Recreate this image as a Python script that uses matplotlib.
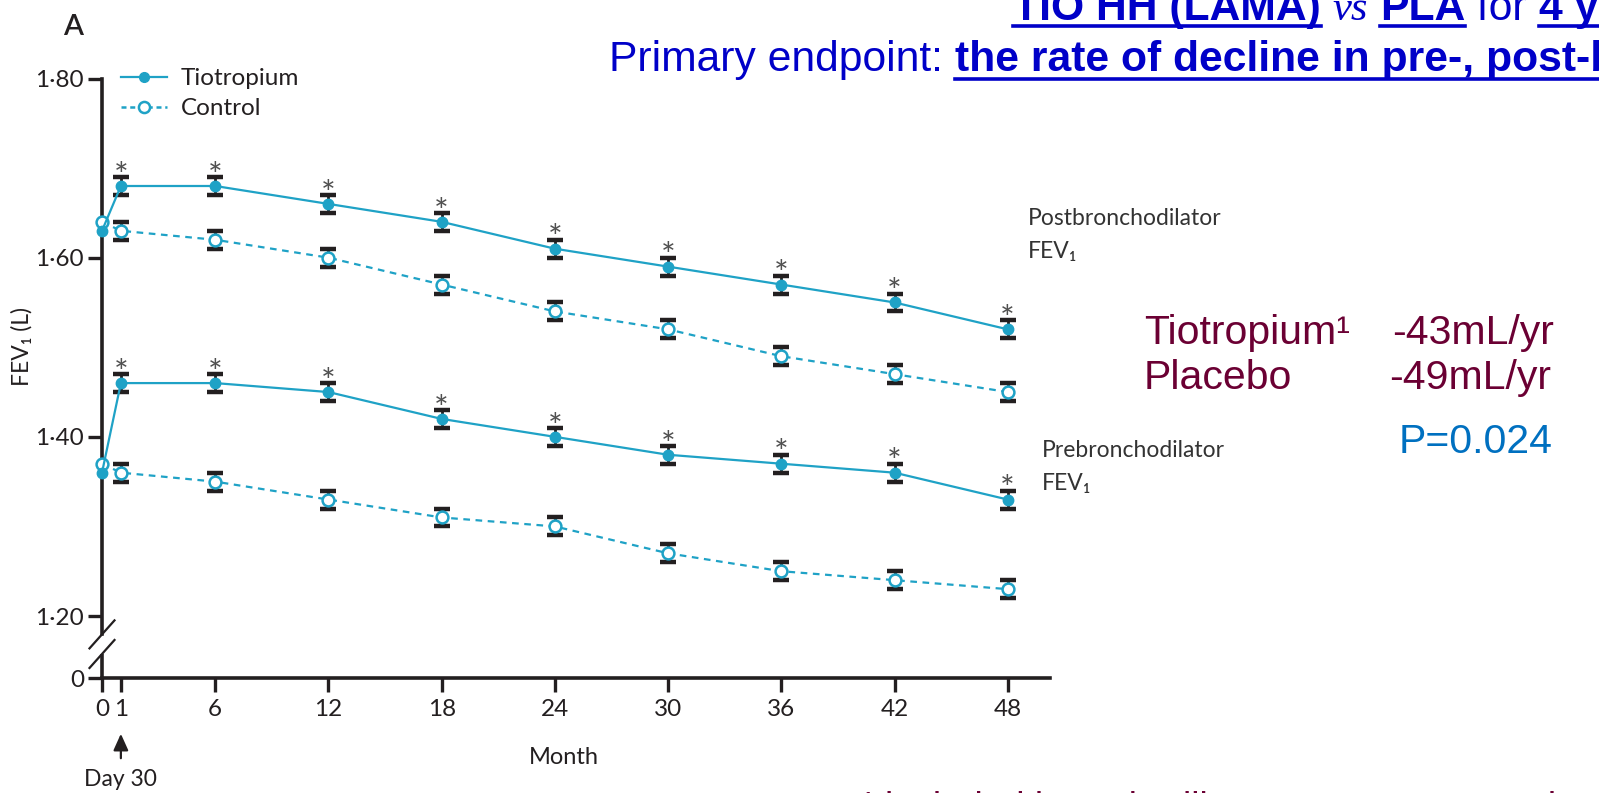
import matplotlib
matplotlib.use("Agg")
import matplotlib.pyplot as plt
import matplotlib.transforms as mtransforms
from matplotlib.lines import Line2D

# ---------------- data ----------------
months = [0, 1, 6, 12, 18, 24, 30, 36, 42, 48]
tio_post = [1.63, 1.68, 1.68, 1.66, 1.64, 1.61, 1.59, 1.57, 1.55, 1.52]
ctl_post = [1.64, 1.63, 1.62, 1.60, 1.57, 1.54, 1.52, 1.49, 1.47, 1.45]
tio_pre = [1.36, 1.46, 1.46, 1.45, 1.42, 1.40, 1.38, 1.37, 1.36, 1.33]
ctl_pre = [1.37, 1.36, 1.35, 1.33, 1.31, 1.30, 1.27, 1.25, 1.24, 1.23]
err_tio_post = [0.0, 0.010, 0.010, 0.010, 0.010, 0.010, 0.010, 0.010, 0.010, 0.010]
err_ctl_post = [0.0, 0.010, 0.010, 0.010, 0.010, 0.010, 0.010, 0.010, 0.010, 0.010]
err_tio_pre = [0.0, 0.010, 0.010, 0.010, 0.010, 0.010, 0.010, 0.010, 0.010, 0.010]
err_ctl_pre = [0.0, 0.010, 0.010, 0.010, 0.010, 0.010, 0.010, 0.010, 0.010, 0.010]
xtick_labels = ["0", "1", "6", "12", "18", "24", "30", "36", "42", "48"]
ytick_values = [1.20, 1.40, 1.60, 1.80]
ytick_labels = ["1·20", "1·40", "1·60", "1·80"]
series_labels = ["Tiotropium", "Control"]

TEAL = "#1fa2c6"
INK = "#231f20"
MAROON = "#6b0033"
BLUE = "#0000c8"
PBLUE = "#0070c0"

plt.rcParams["font.family"] = ["Lato", "DejaVu Sans"]

W, H = 1599, 793
fig = plt.figure(figsize=(W / 100, H / 100), dpi=100)

# axes placement (figure pixels)
ax_l, ax_r, ax_t, ax_b = 102, 1050, 78.5, 678
ax = fig.add_axes([ax_l / W, 1 - ax_b / H, (ax_r - ax_l) / W, (ax_b - ax_t) / H])
y_zero = 1.1308  # where the broken axis shows "0"
ax.set_ylim(y_zero, 1.80)
ax.set_xlim(0, 50.24)

for s in ["top", "right"]:
    ax.spines[s].set_visible(False)
for s in ["left", "bottom"]:
    ax.spines[s].set_linewidth(2.6)
    ax.spines[s].set_color(INK)
break_hi, break_lo = 1.1795, 1.1576
ax.spines["left"].set_bounds(break_hi, 1.80)
ax.plot([0, 0], [y_zero, break_lo], color=INK, lw=2.6, transform=ax.get_yaxis_transform(),
        clip_on=False, solid_capstyle="butt")

# break slashes
fig.canvas.draw()
for yb in (break_hi, break_lo):
    cx, cy = ax.get_yaxis_transform().transform((0, yb))
    fig.add_artist(Line2D([cx - 12.5, cx + 12.5], [cy - 14, cy + 14], color=INK, lw=1.6,
                          transform=mtransforms.IdentityTransform()))

ax.set_xticks(months)
ax.set_xticklabels(xtick_labels)
ax.set_yticks([y_zero] + ytick_values)
ax.set_yticklabels(["0"] + ytick_labels)
ax.tick_params(axis="both", direction="out", width=2.4, length=10, color=INK,
               labelsize=17.5, labelcolor=INK)
ax.tick_params(axis="y", pad=3)
ax.tick_params(axis="x", pad=5)

# series
def draw(vals, errs, filled, ls):
    ax.errorbar(months[1:], vals[1:], yerr=errs[1:], fmt="none", ecolor=INK,
                elinewidth=2.0, capsize=6, capthick=3.2, zorder=3, clip_on=False)
    if filled:
        ax.plot(months, vals, color=TEAL, lw=1.6, ls=ls, marker="o", ms=7.5,
                mfc=TEAL, mec=TEAL, zorder=4, clip_on=False)
    else:
        ax.plot(months, vals, color=TEAL, lw=1.6, ls=ls, marker="o", ms=8.5,
                mfc="white", mec=TEAL, mew=1.8, zorder=4, clip_on=False, dashes=(3, 2.5))

draw(ctl_post, err_ctl_post, False, "--")
draw(ctl_pre, err_ctl_pre, False, "--")
draw(tio_post, err_tio_post, True, "-")
draw(tio_pre, err_tio_pre, True, "-")

for vals, errs in ((tio_post, err_tio_post), (tio_pre, err_tio_pre)):
    for m, v, e in zip(months[1:], vals[1:], errs[1:]):
        ax.annotate("*", xy=(m, v + e), xytext=(0, -7), textcoords="offset points",
                    ha="center", va="baseline", fontsize=25, color="#505050")

# legend
handles = [
    Line2D([], [], color=TEAL, lw=1.6, marker="o", ms=7, mfc=TEAL, mec=TEAL),
    Line2D([], [], color=TEAL, lw=1.8, ls="--", dashes=(2, 1.5), marker="o", ms=8,
           mfc="white", mec=TEAL, mew=1.8),
]
ax.legend(handles, series_labels, loc="upper left", bbox_to_anchor=(121 / W, 1 - 68 / H),
          bbox_transform=fig.transFigure, frameon=False, fontsize=17.5, handlelength=1.9,
          handletextpad=0.55, labelspacing=0.37, borderpad=0, borderaxespad=0,
          labelcolor=INK)

# axis labels
ax.set_xlabel("Month", fontsize=17, color=INK)
ax.xaxis.set_label_coords((564 - ax_l) / (ax_r - ax_l), -(758 - ax_b) / (ax_b - ax_t))
ax.xaxis.label.set_va("center")
ax.set_ylabel("FEV₁ (L)", fontsize=16.5, color=INK)
ax.yaxis.set_label_coords((22 - ax_l) / (ax_r - ax_l), (ax_b - 347) / (ax_b - ax_t))
ax.yaxis.label.set_va("center")

# Day 30 arrow
ax.annotate("", xy=(1, 0), xycoords=mtransforms.offset_copy(ax.get_xaxis_transform(), fig=fig,
                                                          y=-53, units="dots"),
            xytext=(1, 0), textcoords=mtransforms.offset_copy(ax.get_xaxis_transform(), fig=fig,
                                                              y=-83, units="dots"),
            arrowprops=dict(arrowstyle="-|>,head_length=1.0,head_width=0.45", color=INK, lw=1.6))
ax.annotate("Day 30", xy=(1, 0), xycoords=ax.get_xaxis_transform(), xytext=(0, -102 * 0.72),
            textcoords="offset points", ha="center", va="center", fontsize=16.5, color=INK)

# curve labels
LBL = "#333333"
ax.text(49.08, 1.6440, "Postbronchodilator", fontsize=16.5, color=LBL, va="center",
        ha="left", clip_on=False)
ax.text(49.08, 1.6066, "FEV₁", fontsize=16.5, color=LBL, va="center", ha="left",
        clip_on=False)
ax.text(49.8, 1.3850, "Prebronchodilator", fontsize=16.5, color=LBL, va="center",
        ha="left", clip_on=False)
ax.text(49.8, 1.3480, "FEV₁", fontsize=16.5, color=LBL, va="center", ha="left",
        clip_on=False)

# panel letter
fig.text(63 / W, 1 - 27 / H, "A", fontsize=21, color=INK, va="center", ha="left",
         fontweight="semibold")

# ---------- slide texts ----------
PIX = mtransforms.IdentityTransform()
ARIAL = ["Liberation Sans", "DejaVu Sans"]
SERIF = ["Liberation Serif", "DejaVu Serif"]

def run(x, y_top, pieces, size, color, ul_off=8):
    y = H - y_top
    renderer = fig.canvas.get_renderer()
    for s, fam, weight, style, ul in pieces:
        t = fig.text(x, y, s, transform=PIX, fontsize=size, color=color, family=fam,
                     fontweight=weight, fontstyle=style, va="baseline", ha="left")
        w = t.get_window_extent(renderer).width
        if ul:
            fig.add_artist(Line2D([x, x + w], [y - ul_off, y - ul_off], color=color, lw=2.6,
                                  transform=PIX))
        x += w

run(1013, 20, [("TIO HH (LAMA)", ARIAL, "bold", "normal", True),
               (" ", ARIAL, "normal", "normal", False),
               ("vs", SERIF, "normal", "italic", False),
               (" ", ARIAL, "normal", "normal", False),
               ("PLA", ARIAL, "bold", "normal", True),
               (" for ", ARIAL, "normal", "normal", False),
               ("4 years", ARIAL, "bold", "normal", True)], 30.7, BLUE, ul_off=6)
run(609, 71, [("Primary endpoint: ", ARIAL, "normal", "normal", False),
              ("the rate of decline in pre-, post-bronchodilator FEV1", ARIAL, "bold",
               "normal", True)], 30.7, BLUE, ul_off=8)

fig.text(1144, H - 344, "Tiotropium¹", transform=PIX, fontsize=29.5, color=MAROON,
         family=ARIAL, va="baseline")
fig.text(1392, H - 344, "-43mL/yr", transform=PIX, fontsize=29.5, color=MAROON,
         family=ARIAL, va="baseline")
fig.text(1144, H - 389, "Placebo", transform=PIX, fontsize=29.5, color=MAROON,
         family=ARIAL, va="baseline")
fig.text(1389, H - 389, "-49mL/yr", transform=PIX, fontsize=29.5, color=MAROON,
         family=ARIAL, va="baseline")
fig.text(1399, H - 453, "P=0.024", transform=PIX, fontsize=29.5, color=PBLUE,
         family=ARIAL, va="baseline")
fig.text(862, H - 819, "¹ included bronchodilator use as a secondary analysis of the endpoint (Lancet)",
         transform=PIX, fontsize=27, color=MAROON, family=ARIAL, va="baseline")

fig.savefig("out.png", dpi=100)
